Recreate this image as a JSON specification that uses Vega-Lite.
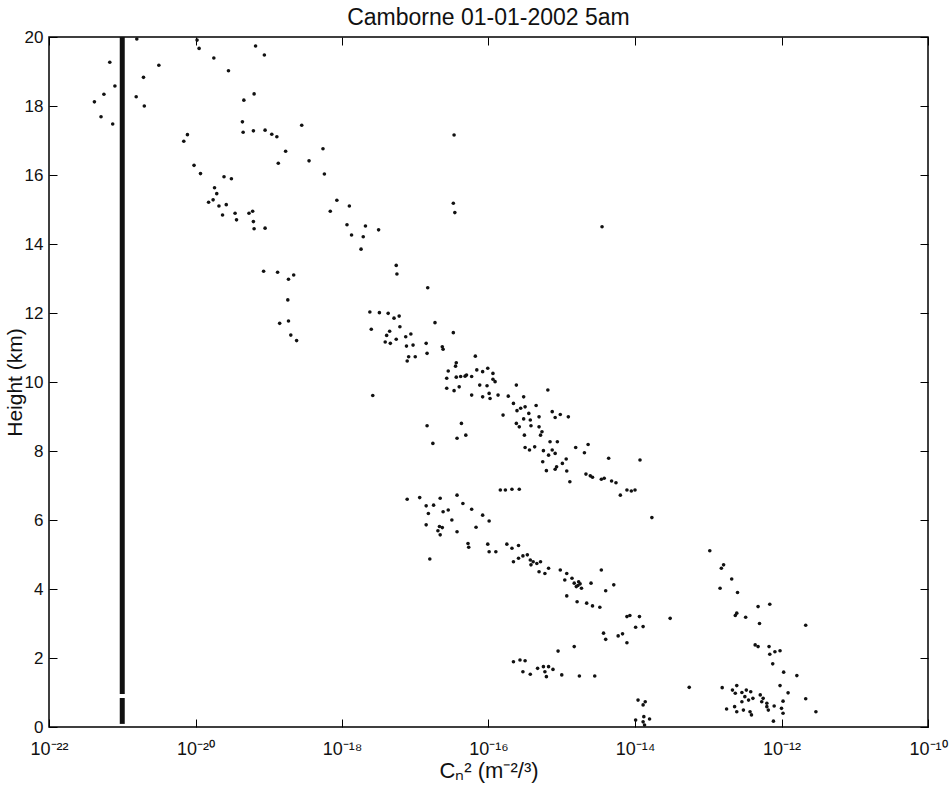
{
  "$schema": "https://vega.github.io/schema/vega-lite/v6.json",
  "width": 879,
  "height": 690,
  "autosize": {"type": "none"},
  "padding": {"left": 49, "top": 37, "right": 24, "bottom": 65},
  "background": "white",
  "config": {"view": {"stroke": "#000", "strokeWidth": 1.5}, "font": "Liberation Sans"},
  "title": {"text": "Camborne 01-01-2002 5am", "fontSize": 23, "fontWeight": "normal", "font": "Liberation Sans", "color": "#111", "anchor": "middle", "frame": "group", "offset": -2},
  "resolve": {"axis": {"x": "independent", "y": "independent"}},
  "layer": [
    {
      "data": {"values": [
        {"cn2": 6.76e-22, "height": 19.27}, {"cn2": 7.94e-22, "height": 18.58}, {"cn2": 5.62e-22, "height": 18.34}, {"cn2": 4.17e-22, "height": 18.12}, {"cn2": 5.13e-22, "height": 17.69}, {"cn2": 7.41e-22, "height": 17.48},
        {"cn2": 1.58e-21, "height": 19.94}, {"cn2": 3.16e-21, "height": 19.18}, {"cn2": 1.95e-21, "height": 18.83}, {"cn2": 1.55e-21, "height": 18.27}, {"cn2": 2.0e-21, "height": 18.0},
        {"cn2": 1.12e-20, "height": 19.67}, {"cn2": 1.05e-20, "height": 19.91}, {"cn2": 1.78e-20, "height": 19.39}, {"cn2": 2.82e-20, "height": 19.02}, {"cn2": 6.61e-20, "height": 19.74}, {"cn2": 8.71e-20, "height": 19.48},
        {"cn2": 6.31e-20, "height": 18.35}, {"cn2": 4.57e-20, "height": 18.17}, {"cn2": 4.37e-20, "height": 17.54}, {"cn2": 4.47e-20, "height": 17.24}, {"cn2": 6.17e-20, "height": 17.28}, {"cn2": 8.91e-20, "height": 17.3},
        {"cn2": 1.1e-19, "height": 17.18}, {"cn2": 1.29e-19, "height": 17.11}, {"cn2": 2.82e-19, "height": 17.44}, {"cn2": 1.7e-19, "height": 16.69}, {"cn2": 1.35e-19, "height": 16.34}, {"cn2": 3.55e-19, "height": 16.41},
        {"cn2": 7.76e-21, "height": 17.17}, {"cn2": 6.92e-21, "height": 16.98}, {"cn2": 9.55e-21, "height": 16.28}, {"cn2": 1.17e-20, "height": 16.04}, {"cn2": 2.45e-20, "height": 15.95}, {"cn2": 3.09e-20, "height": 15.89},
        {"cn2": 1.82e-20, "height": 15.63}, {"cn2": 1.95e-20, "height": 15.46}, {"cn2": 1.74e-20, "height": 15.28}, {"cn2": 1.51e-20, "height": 15.21}, {"cn2": 2.09e-20, "height": 15.1}, {"cn2": 2.63e-20, "height": 15.14},
        {"cn2": 2.34e-20, "height": 14.84}, {"cn2": 3.47e-20, "height": 14.89}, {"cn2": 3.63e-20, "height": 14.7}, {"cn2": 5.37e-20, "height": 14.89}, {"cn2": 6.03e-20, "height": 14.95}, {"cn2": 6.17e-20, "height": 14.65},
        {"cn2": 6.31e-20, "height": 14.44}, {"cn2": 8.91e-20, "height": 14.46}, {"cn2": 8.51e-20, "height": 13.21}, {"cn2": 1.32e-19, "height": 13.18}, {"cn2": 2.19e-19, "height": 13.1}, {"cn2": 1.86e-19, "height": 12.98},
        {"cn2": 5.5e-19, "height": 16.76}, {"cn2": 5.75e-19, "height": 16.03}, {"cn2": 8.51e-19, "height": 15.27}, {"cn2": 1.26e-18, "height": 15.1}, {"cn2": 6.92e-19, "height": 14.95}, {"cn2": 1.17e-18, "height": 14.56},
        {"cn2": 2.09e-18, "height": 14.52}, {"cn2": 3.16e-18, "height": 14.41}, {"cn2": 1.35e-18, "height": 14.26}, {"cn2": 1.95e-18, "height": 14.21}, {"cn2": 1.82e-18, "height": 13.85}, {"cn2": 5.5e-18, "height": 13.38},
        {"cn2": 5.62e-18, "height": 13.13}, {"cn2": 3.39e-17, "height": 17.16}, {"cn2": 3.31e-17, "height": 15.18}, {"cn2": 3.47e-17, "height": 14.91}, {"cn2": 3.55e-15, "height": 14.5},
        {"cn2": 1.82e-19, "height": 12.38}, {"cn2": 1.41e-19, "height": 11.7}, {"cn2": 1.86e-19, "height": 11.77}, {"cn2": 2.0e-19, "height": 11.36}, {"cn2": 2.4e-19, "height": 11.2},
        {"cn2": 1.48e-17, "height": 12.73}, {"cn2": 2.4e-18, "height": 12.03}, {"cn2": 3.24e-18, "height": 12.01}, {"cn2": 4.27e-18, "height": 11.99}, {"cn2": 5.13e-18, "height": 11.85}, {"cn2": 6.03e-18, "height": 11.91},
        {"cn2": 2.51e-18, "height": 11.53}, {"cn2": 4.47e-18, "height": 11.47}, {"cn2": 4.07e-18, "height": 11.35}, {"cn2": 6.17e-18, "height": 11.6}, {"cn2": 5.5e-18, "height": 11.24}, {"cn2": 3.89e-18, "height": 11.16},
        {"cn2": 4.57e-18, "height": 11.12}, {"cn2": 7.41e-18, "height": 11.31}, {"cn2": 8.71e-18, "height": 11.39}, {"cn2": 7.59e-18, "height": 11.04}, {"cn2": 9.33e-18, "height": 11.07}, {"cn2": 1.41e-17, "height": 11.12},
        {"cn2": 8.13e-18, "height": 10.73}, {"cn2": 1.0e-17, "height": 10.73}, {"cn2": 7.76e-18, "height": 10.61}, {"cn2": 1.45e-17, "height": 10.83}, {"cn2": 1.86e-17, "height": 11.72}, {"cn2": 3.31e-17, "height": 11.43},
        {"cn2": 2.34e-17, "height": 11.02}, {"cn2": 2.4e-17, "height": 10.95}, {"cn2": 6.61e-17, "height": 10.75}, {"cn2": 2.63e-18, "height": 9.61}, {"cn2": 3.63e-17, "height": 10.56}, {"cn2": 3.55e-17, "height": 10.46},
        {"cn2": 2.82e-17, "height": 10.32}, {"cn2": 2.69e-17, "height": 10.11}, {"cn2": 2.69e-17, "height": 9.82}, {"cn2": 3.39e-17, "height": 9.75}, {"cn2": 3.98e-17, "height": 9.86}, {"cn2": 3.63e-17, "height": 10.14},
        {"cn2": 4.17e-17, "height": 10.16}, {"cn2": 4.79e-17, "height": 10.17}, {"cn2": 5.01e-17, "height": 10.2}, {"cn2": 5.89e-17, "height": 10.16}, {"cn2": 6.92e-17, "height": 10.35}, {"cn2": 8.32e-17, "height": 10.3},
        {"cn2": 9.77e-17, "height": 10.4}, {"cn2": 1.15e-16, "height": 10.25}, {"cn2": 1.15e-16, "height": 10.08}, {"cn2": 1.23e-16, "height": 10.01}, {"cn2": 7.59e-17, "height": 9.91}, {"cn2": 9.55e-17, "height": 9.89},
        {"cn2": 5.89e-17, "height": 9.62}, {"cn2": 8.32e-17, "height": 9.57}, {"cn2": 1.02e-16, "height": 9.67}, {"cn2": 1.05e-16, "height": 9.52}, {"cn2": 1.35e-16, "height": 9.62}, {"cn2": 1.86e-16, "height": 9.59},
        {"cn2": 2.4e-16, "height": 9.91}, {"cn2": 3.02e-16, "height": 9.57}, {"cn2": 6.46e-16, "height": 9.77}, {"cn2": 2.19e-16, "height": 9.38}, {"cn2": 2.45e-16, "height": 9.17}, {"cn2": 2.75e-16, "height": 9.24},
        {"cn2": 3.16e-16, "height": 9.28}, {"cn2": 4.47e-16, "height": 9.32}, {"cn2": 1.58e-16, "height": 9.04}, {"cn2": 3.55e-16, "height": 9.09}, {"cn2": 4.9e-16, "height": 8.99}, {"cn2": 7.41e-16, "height": 9.14},
        {"cn2": 9.55e-16, "height": 9.06}, {"cn2": 8.13e-16, "height": 8.97}, {"cn2": 1.23e-15, "height": 8.99}, {"cn2": 3.02e-16, "height": 8.93}, {"cn2": 3.72e-16, "height": 8.9}, {"cn2": 2.4e-16, "height": 8.8},
        {"cn2": 2.63e-16, "height": 8.7}, {"cn2": 3.8e-16, "height": 8.73}, {"cn2": 4.9e-16, "height": 8.7}, {"cn2": 5.37e-16, "height": 8.56}, {"cn2": 5.13e-16, "height": 8.46}, {"cn2": 3.09e-16, "height": 8.46},
        {"cn2": 4.27e-17, "height": 8.8}, {"cn2": 1.45e-17, "height": 8.73}, {"cn2": 3.72e-17, "height": 8.37}, {"cn2": 4.9e-17, "height": 8.46}, {"cn2": 1.74e-17, "height": 8.22},
        {"cn2": 3.16e-16, "height": 8.1}, {"cn2": 3.63e-16, "height": 8.03}, {"cn2": 4.27e-16, "height": 8.12}, {"cn2": 5.62e-16, "height": 8.01}, {"cn2": 6.92e-16, "height": 8.27}, {"cn2": 7.41e-16, "height": 8.03},
        {"cn2": 8.13e-16, "height": 7.93}, {"cn2": 8.71e-16, "height": 8.27}, {"cn2": 6.61e-16, "height": 7.88}, {"cn2": 1.15e-15, "height": 7.77}, {"cn2": 5.5e-16, "height": 7.69}, {"cn2": 8.51e-16, "height": 7.54},
        {"cn2": 1.02e-15, "height": 7.64}, {"cn2": 6.17e-16, "height": 7.43}, {"cn2": 8.13e-16, "height": 7.47}, {"cn2": 1.17e-15, "height": 7.42}, {"cn2": 1.29e-15, "height": 7.11}, {"cn2": 1.55e-15, "height": 8.1},
        {"cn2": 2.04e-15, "height": 7.95}, {"cn2": 2.29e-15, "height": 8.19}, {"cn2": 4.37e-15, "height": 7.79}, {"cn2": 2.14e-15, "height": 7.33}, {"cn2": 2.45e-15, "height": 7.28}, {"cn2": 2.63e-15, "height": 7.24},
        {"cn2": 3.47e-15, "height": 7.18}, {"cn2": 3.8e-15, "height": 7.21}, {"cn2": 4.79e-15, "height": 7.13}, {"cn2": 5.5e-15, "height": 7.08}, {"cn2": 6.31e-15, "height": 6.72}, {"cn2": 7.76e-15, "height": 6.87},
        {"cn2": 8.91e-15, "height": 6.84}, {"cn2": 1.0e-14, "height": 6.87}, {"cn2": 1.17e-14, "height": 7.74}, {"cn2": 1.7e-14, "height": 6.07},
        {"cn2": 1.45e-16, "height": 6.87}, {"cn2": 1.7e-16, "height": 6.87}, {"cn2": 2.09e-16, "height": 6.89}, {"cn2": 2.63e-16, "height": 6.89},
        {"cn2": 7.76e-18, "height": 6.6}, {"cn2": 1.15e-17, "height": 6.65}, {"cn2": 1.41e-17, "height": 6.41}, {"cn2": 1.78e-17, "height": 6.43}, {"cn2": 2.19e-17, "height": 6.63}, {"cn2": 1.51e-17, "height": 6.19},
        {"cn2": 2.4e-17, "height": 6.24}, {"cn2": 2.82e-17, "height": 6.29}, {"cn2": 3.72e-17, "height": 6.72}, {"cn2": 4.47e-17, "height": 6.48}, {"cn2": 5.89e-17, "height": 6.31}, {"cn2": 8.32e-17, "height": 6.14},
        {"cn2": 1.02e-16, "height": 5.97}, {"cn2": 1.41e-17, "height": 5.86}, {"cn2": 2.14e-17, "height": 5.81}, {"cn2": 2.04e-17, "height": 5.69}, {"cn2": 2.34e-17, "height": 5.78}, {"cn2": 3.16e-17, "height": 6.0},
        {"cn2": 3.72e-17, "height": 5.66}, {"cn2": 6.76e-17, "height": 5.79}, {"cn2": 2.19e-17, "height": 5.57}, {"cn2": 1.58e-17, "height": 4.87}, {"cn2": 5.25e-17, "height": 5.32}, {"cn2": 5.37e-17, "height": 5.21},
        {"cn2": 9.77e-17, "height": 5.3}, {"cn2": 1.02e-16, "height": 5.08}, {"cn2": 1.26e-16, "height": 5.08}, {"cn2": 1.78e-16, "height": 5.3}, {"cn2": 2.09e-16, "height": 5.18}, {"cn2": 2.57e-16, "height": 5.26},
        {"cn2": 2.19e-16, "height": 4.79}, {"cn2": 2.57e-16, "height": 4.89}, {"cn2": 2.95e-16, "height": 4.96}, {"cn2": 3.39e-16, "height": 4.99}, {"cn2": 3.72e-16, "height": 4.84}, {"cn2": 4.07e-16, "height": 4.79},
        {"cn2": 4.57e-16, "height": 4.74}, {"cn2": 5.13e-16, "height": 4.79}, {"cn2": 3.8e-16, "height": 4.7}, {"cn2": 4.9e-16, "height": 4.5}, {"cn2": 5.89e-16, "height": 4.45}, {"cn2": 6.61e-16, "height": 4.6},
        {"cn2": 9.55e-16, "height": 4.55}, {"cn2": 1.17e-15, "height": 4.45}, {"cn2": 1.38e-15, "height": 4.31}, {"cn2": 1.1e-15, "height": 4.26}, {"cn2": 1.48e-15, "height": 4.17}, {"cn2": 1.58e-15, "height": 4.07},
        {"cn2": 1.86e-15, "height": 4.02}, {"cn2": 1.7e-15, "height": 4.21}, {"cn2": 1.66e-15, "height": 4.1}, {"cn2": 1.78e-15, "height": 4.15}, {"cn2": 2.51e-15, "height": 4.17}, {"cn2": 3.47e-15, "height": 4.55},
        {"cn2": 1.17e-15, "height": 3.8}, {"cn2": 1.62e-15, "height": 3.63}, {"cn2": 2.19e-15, "height": 3.59}, {"cn2": 2.63e-15, "height": 3.51}, {"cn2": 3.31e-15, "height": 3.47}, {"cn2": 3.98e-15, "height": 3.95},
        {"cn2": 5.13e-15, "height": 4.12},
        {"cn2": 3.72e-15, "height": 2.72}, {"cn2": 3.98e-15, "height": 2.54}, {"cn2": 5.89e-15, "height": 2.64}, {"cn2": 1.48e-15, "height": 2.33}, {"cn2": 8.91e-16, "height": 2.2},
        {"cn2": 2.19e-16, "height": 1.89}, {"cn2": 2.69e-16, "height": 1.94}, {"cn2": 3.16e-16, "height": 1.92}, {"cn2": 2.95e-16, "height": 1.6}, {"cn2": 3.72e-16, "height": 1.53}, {"cn2": 4.68e-16, "height": 1.7},
        {"cn2": 5.62e-16, "height": 1.75}, {"cn2": 6.61e-16, "height": 1.75}, {"cn2": 6.17e-16, "height": 1.46}, {"cn2": 5.89e-16, "height": 1.6}, {"cn2": 7.59e-16, "height": 1.67}, {"cn2": 1.0e-15, "height": 1.51},
        {"cn2": 1.74e-15, "height": 1.48}, {"cn2": 2.82e-15, "height": 1.48},
        {"cn2": 8.51e-15, "height": 3.23}, {"cn2": 7.76e-15, "height": 3.2}, {"cn2": 1.15e-14, "height": 3.2}, {"cn2": 1.02e-14, "height": 2.89}, {"cn2": 1.29e-14, "height": 2.91}, {"cn2": 6.76e-15, "height": 2.7},
        {"cn2": 7.76e-15, "height": 2.44}, {"cn2": 3.02e-14, "height": 3.15},
        {"cn2": 1.05e-13, "height": 5.11}, {"cn2": 1.62e-13, "height": 4.7}, {"cn2": 1.51e-13, "height": 4.6}, {"cn2": 2.09e-13, "height": 4.29}, {"cn2": 1.45e-13, "height": 4.02}, {"cn2": 2.51e-13, "height": 3.9},
        {"cn2": 4.79e-13, "height": 3.49}, {"cn2": 6.92e-13, "height": 3.56}, {"cn2": 2.45e-13, "height": 3.3}, {"cn2": 2.34e-13, "height": 3.23}, {"cn2": 3.24e-13, "height": 3.18}, {"cn2": 5.01e-13, "height": 3.0},
        {"cn2": 2.14e-12, "height": 2.95}, {"cn2": 4.37e-13, "height": 2.38}, {"cn2": 4.79e-13, "height": 2.33}, {"cn2": 6.76e-13, "height": 2.33}, {"cn2": 6.92e-13, "height": 2.11}, {"cn2": 8.13e-13, "height": 2.18},
        {"cn2": 9.55e-13, "height": 2.21}, {"cn2": 7.59e-13, "height": 1.83}, {"cn2": 1.07e-12, "height": 1.59}, {"cn2": 1.62e-12, "height": 1.49}, {"cn2": 9.55e-13, "height": 1.2}, {"cn2": 1.23e-12, "height": 0.99},
        {"cn2": 2.14e-12, "height": 0.82}, {"cn2": 2.95e-12, "height": 0.44}, {"cn2": 1.05e-12, "height": 0.75}, {"cn2": 1.0e-12, "height": 0.54}, {"cn2": 1.05e-12, "height": 0.4}, {"cn2": 7.76e-13, "height": 0.17},
        {"cn2": 7.94e-13, "height": 0.61}, {"cn2": 6.31e-13, "height": 0.59}, {"cn2": 5.5e-14, "height": 1.15}, {"cn2": 1.55e-13, "height": 1.14}, {"cn2": 1.78e-13, "height": 0.52},
        {"cn2": 2.14e-13, "height": 1.07}, {"cn2": 2.45e-13, "height": 1.2}, {"cn2": 2.34e-13, "height": 0.98}, {"cn2": 2.88e-13, "height": 1.0}, {"cn2": 3.31e-13, "height": 1.07}, {"cn2": 3.8e-13, "height": 1.02},
        {"cn2": 3.16e-13, "height": 0.88}, {"cn2": 3.55e-13, "height": 0.78}, {"cn2": 2.88e-13, "height": 0.73}, {"cn2": 2.29e-13, "height": 0.59}, {"cn2": 2.45e-13, "height": 0.44}, {"cn2": 3.02e-13, "height": 0.49},
        {"cn2": 3.72e-13, "height": 0.44}, {"cn2": 3.89e-13, "height": 0.35}, {"cn2": 5.13e-13, "height": 0.93}, {"cn2": 5.62e-13, "height": 0.83}, {"cn2": 5.37e-13, "height": 0.73}, {"cn2": 6.31e-13, "height": 0.69},
        {"cn2": 6.61e-13, "height": 0.49}, {"cn2": 4.07e-13, "height": 0.83},
        {"cn2": 1.1e-14, "height": 0.78}, {"cn2": 1.38e-14, "height": 0.73}, {"cn2": 1.29e-14, "height": 0.64}, {"cn2": 1.32e-14, "height": 0.3}, {"cn2": 1.58e-14, "height": 0.23}, {"cn2": 1.29e-14, "height": 0.15},
        {"cn2": 1.02e-14, "height": 0.2}, {"cn2": 1.35e-14, "height": 0.06}
      ]},
      "mark": {"type": "circle", "size": 13, "color": "#111", "opacity": 1},
      "encoding": {
        "x": {
          "field": "cn2", "type": "quantitative",
          "scale": {"type": "log", "domain": [1e-22, 1e-10]},
          "axis": {
            "orient": "bottom", "values": [1e-22, 1e-20, 1e-18, 1e-16, 1e-14, 1e-12, 1e-10],
            "labelExpr": "datum.value < 1e-21 ? '10⁻²²' : datum.value < 1e-19 ? '10⁻²⁰' : datum.value < 1e-17 ? '10⁻¹⁸' : datum.value < 1e-15 ? '10⁻¹⁶' : datum.value < 1e-13 ? '10⁻¹⁴' : datum.value < 1e-11 ? '10⁻¹²' : '10⁻¹⁰'",
            "labelFont": "Liberation Sans", "labelFontSize": 18, "labelColor": "#111", "labelFlush": false, "labelOverlap": false, "labelBound": false,
            "tickSize": -8, "tickColor": "#000", "tickWidth": 1, "labelPadding": 21,
            "domain": false, "grid": false,
            "title": "Cₙ² (m⁻²/³)", "titleFont": "Liberation Sans", "titleFontSize": 22, "titleFontWeight": "normal", "titleColor": "#111", "titlePadding": 2
          }
        },
        "y": {
          "field": "height", "type": "quantitative",
          "scale": {"domain": [0, 20], "nice": false, "zero": false},
          "axis": {
            "orient": "left", "values": [0, 2, 4, 6, 8, 10, 12, 14, 16, 18, 20],
            "labelFont": "Liberation Sans", "labelFontSize": 17, "labelColor": "#111", "labelFlush": false, "labelOverlap": false, "labelBound": false,
            "tickSize": -8, "tickColor": "#000", "tickWidth": 1, "labelPadding": 14,
            "domain": false, "grid": false,
            "title": "Height (km)", "titleFont": "Liberation Sans", "titleFontSize": 21, "titleFontWeight": "normal", "titleColor": "#111", "titlePadding": -1
          }
        }
      }
    },
    {
      "data": {"values": [
        {"cn2": 1e-21, "h0": 0.09, "h1": 0.84},
        {"cn2": 1e-21, "h0": 0.96, "h1": 20}
      ]},
      "mark": {"type": "rule", "strokeWidth": 5, "color": "#111"},
      "encoding": {
        "x": {
          "field": "cn2", "type": "quantitative",
          "axis": {"orient": "top", "values": [1e-22, 1e-20, 1e-18, 1e-16, 1e-14, 1e-12, 1e-10], "labels": false, "tickSize": -8, "tickColor": "#000", "domain": false, "grid": false, "title": null}
        },
        "y": {
          "field": "h0", "type": "quantitative",
          "axis": {"orient": "right", "values": [0, 2, 4, 6, 8, 10, 12, 14, 16, 18, 20], "labels": false, "tickSize": -8, "tickColor": "#000", "domain": false, "grid": false, "title": null}
        },
        "y2": {"field": "h1"}
      }
    }
  ]
}
